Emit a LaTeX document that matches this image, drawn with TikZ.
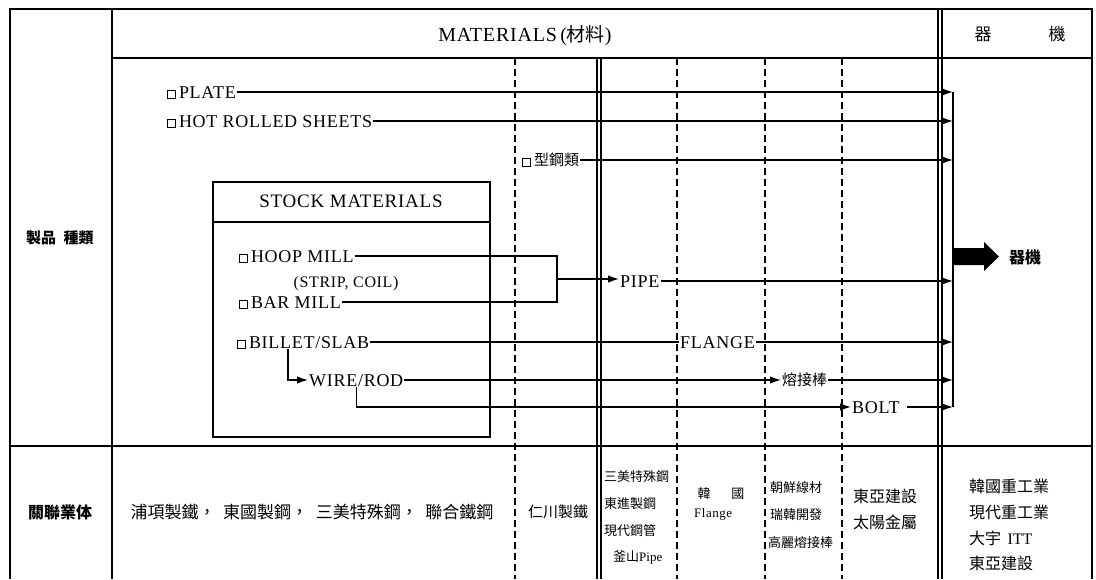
\documentclass[tikz,border=0pt]{standalone}
\usepackage{fontspec}
\setmainfont{Liberation Serif}[LetterSpace=4]
\newfontfamily\cjk{Noto Sans CJK TC}
\usetikzlibrary{arrows.meta}
\newcommand\sqbox{{\fboxsep=0pt\fboxrule=0.9pt\fbox{\rule{0pt}{7pt}\rule{7pt}{0pt}}}\hspace{3pt}}
\begin{document}
\begin{tikzpicture}[x=1pt,y=-1pt,
  lat/.style={font=\fontsize{#1}{#1}\selectfont, inner sep=1pt, text height=12pt, text depth=0pt},
  lat/.default=18,
  cj/.style={font=\cjk\fontsize{#1}{#1}\selectfont, inner sep=1pt},
  cj/.default=16,
  cjb/.style={font=\cjk\bfseries\fontsize{#1}{#1}\selectfont, inner sep=1pt},
  cjb/.default=16,
  frame/.style={line width=2pt},
  rule/.style={line width=1.6pt},
  dbl/.style={line width=1.1pt},
  dsh/.style={line width=1.1pt, dash pattern=on 7pt off 4pt},
  conn/.style={line width=1.3pt},
  arr/.style={conn, -{Latex[length=11pt,width=7.5pt]}},
  stockbox/.style={draw, line width=1.5pt, minimum width=277pt, minimum height=255pt, inner sep=0pt, anchor=north west}
]
\useasboundingbox (0,0) rectangle (1096,579);
% frame
\draw[frame] (10,579) -- (10,9) -- (1092,9) -- (1092,579);
\draw[frame] (112,9) -- (112,579);
\draw[rule] (112,58) -- (1092,58);
\draw[rule] (10,446) -- (1092,446);
\draw[dbl] (938,9) -- (938,579);
\draw[dbl] (942,9) -- (942,579);
\draw[dbl] (597,58) -- (597,579);
\draw[dbl] (601,58) -- (601,579);
\foreach \x in {515,677,765,842} \draw[dsh] (\x,58) -- (\x,579);
% header
\node[lat=20] (mat) at (525,35) {MATERIALS\,({\cjk\fontsize{19}{19}\selectfont 材料})};
\node[cj=17] (ki) at (983,34) {器};
\node[cj=17] (gi) at (1057,34) {機};
\node[cjb=15] (kind) at (60,238) {製品\hspace{0.5em}種類};
\node[cjb=16] (rel) at (60,512) {關聯業体};
% upper rows
\coordinate (br) at (953,0);
\node[lat,anchor=west] (plate) at (166,92) {\sqbox PLATE};
\node[lat,anchor=west] (hrs) at (166,121) {\sqbox HOT ROLLED SHEETS};
\node[cj=15,anchor=west] (kata) at (521,160) {\sqbox 型鋼類};
% stock materials
\node[stockbox] (stock) at (212,181) {};
\draw[line width=1.3pt] (212,222) -- (489,222);
\node[lat=19] (stitle) at (351,201) {STOCK MATERIALS};
\node[lat,anchor=west] (hoop) at (238,256) {\sqbox HOOP MILL};
\node[lat=16] (strip) at (346,281) {(STRIP, COIL)};
\node[lat,anchor=west] (bar) at (238,302) {\sqbox BAR MILL};
\node[lat,anchor=west] (billet) at (236,342) {\sqbox BILLET/SLAB};
\node[lat,anchor=west] (wire) at (308,380) {WIRE/ROD};
% products
\node[lat,anchor=west] (pipe) at (619,281) {PIPE};
\node[lat,anchor=west] (flange) at (679,342) {FLANGE};
\node[cj=15,anchor=west] (yj) at (781,380) {熔接棒};
\node[lat,anchor=west] (bolt) at (851,407) {BOLT};
% connectors
\coordinate (pj) at (557,279);
\draw[conn] (hoop.east) -- (hoop.east -| pj) -- (bar.east -| pj) -- (bar.east);
\draw[arr] (pj) -- (pipe.west |- pj);
\draw[conn] (billet.east) -- (flange.west);
\coordinate (bw) at ([xshift=52pt]billet.south west);
\draw[arr] (bw) |- (wire.west);
\draw[arr] (wire.east) -- (yj.west);
\draw[arr] (wire.south) |- (bolt.west);
\draw[arr] (plate.east) -- (plate.east -| br);
\draw[arr] (hrs.east) -- (hrs.east -| br);
\draw[arr] (kata.east) -- (kata.east -| br);
\draw[arr] (pipe.east) -- (pipe.east -| br);
\draw[arr] (flange.east) -- (flange.east -| br);
\draw[arr] (yj.east) -- (yj.east -| br);
\draw[arr, shorten <=6pt] (bolt.east) -- (bolt.east -| br);
\draw[conn] (plate.east -| br) -- (bolt.east -| br);
% big arrow to equipment
\fill (953,248) -- (984,248) -- (984,242) -- (999,256.5) -- (984,271) -- (984,265) -- (953,265) -- cycle;
\node[cjb=16,anchor=west] (kiki) at (1008,257) {器機};
% related companies
\node[cj=17] (r1) at (312,512) {浦項製鐵，\hspace{0.45em}東國製鋼，\hspace{0.45em}三美特殊鋼，\hspace{0.45em}聯合鐵鋼};
\node[cj=15] (r2) at (558,512) {仁川製鐵};
\node[cj=13,anchor=west] (c1) at (603,477) {三美特殊鋼};
\node[cj=13,anchor=west] (c2) at (603,504) {東進製鋼};
\node[cj=13,anchor=west] (c3) at (603,531) {現代鋼管};
\node[cj=13,anchor=west] (c4) at (612,557) {釜山{\fontspec{Liberation Serif}Pipe}};
\node[cj=13] (f1) at (721,494) {韓\hspace{1.6em}國};
\node[lat=13,anchor=west] (f2) at (693,511) {Flange};
\node[cj=13,anchor=west] (w1) at (769,488) {朝鮮線材};
\node[cj=13,anchor=west] (w2) at (769,515) {瑞韓開發};
\node[cj=13,anchor=west] (w3) at (767,543) {高麗熔接棒};
\node[cj=16,anchor=west] (d1) at (852,496) {東亞建設};
\node[cj=16,anchor=west] (d2) at (852,522) {太陽金屬};
\node[cj=16,anchor=west] (e1) at (968,486) {韓國重工業};
\node[cj=16,anchor=west] (e2) at (968,512) {現代重工業};
\node[cj=16,anchor=west] (e3) at (968,538) {大宇\hspace{0.4em}{\fontspec{Liberation Serif}ITT}};
\node[cj=16,anchor=west] (e4) at (968,563) {東亞建設};
\end{tikzpicture}
\end{document}
